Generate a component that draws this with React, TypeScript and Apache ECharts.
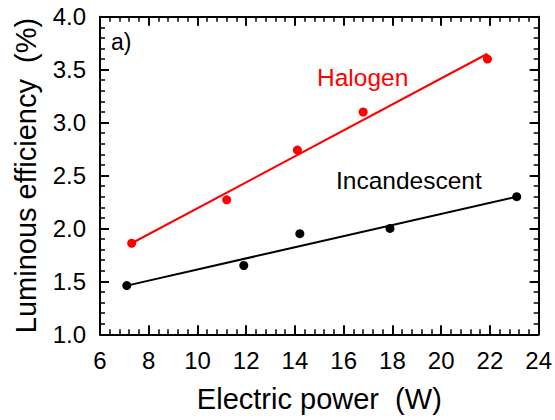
import React, { useEffect, useRef } from "react";
import * as echarts from "echarts";

const incandescentPoints: [number, number][] = [
  [7.1, 1.46],
  [11.9, 1.65],
  [14.2, 1.95],
  [17.9, 2.0],
  [23.1, 2.3],
];
const halogenPoints: [number, number][] = [
  [7.3, 1.86],
  [11.2, 2.27],
  [14.1, 2.74],
  [16.8, 3.1],
  [21.9, 3.6],
];
const incandescentFit: [number, number][] = [
  [7.1, 1.46],
  [23.1, 2.3],
];
const halogenFit: [number, number][] = [
  [7.3, 1.86],
  [21.9, 3.65],
];
const xRange = { min: 6, max: 24, interval: 2 };
const yRange = { min: 1, max: 4, interval: 0.5 };
const xTitle = "Electric power  (W)";
const yTitle = "Luminous efficiency  (%)";
const labelHalogen = "Halogen";
const labelIncandescent = "Incandescent";
const panelLabel = "a)";

const FONT = "'Liberation Sans', Arial, Helvetica, sans-serif";

export default function App() {
  const ref = useRef<HTMLDivElement>(null);
  useEffect(() => {
    if (!ref.current) return;
    const chart = echarts.init(ref.current, undefined, { renderer: "svg" });
    const axisCommon = {
      axisLine: { show: true, onZero: false, lineStyle: { color: "#000", width: 2 } },
      axisTick: { show: true, inside: true, length: 9, lineStyle: { color: "#000", width: 2 } },
      minorTick: { show: true, splitNumber: 5, length: 5, lineStyle: { color: "#000", width: 1.5 } },
      splitLine: { show: false },
    };
    const labelStyle = { color: "#000", fontSize: 24, fontFamily: FONT };
    chart.setOption({
      animation: false,
      backgroundColor: "#fff",
      textStyle: { fontFamily: FONT },
      grid: { left: 100, right: 14.5, top: 16.7, bottom: 85.7, containLabel: false },
      xAxis: [
        {
          type: "value",
          position: "bottom",
          ...xRange,
          ...axisCommon,
          axisLabel: { ...labelStyle, margin: 14 },
          name: xTitle,
          nameLocation: "middle",
          nameGap: 50,
          nameTextStyle: { color: "#000", fontSize: 29, fontFamily: FONT },
        },
        {
          type: "value",
          position: "top",
          ...xRange,
          ...axisCommon,
          axisLabel: { show: false },
        },
      ],
      yAxis: [
        {
          type: "value",
          position: "left",
          ...yRange,
          ...axisCommon,
          axisLabel: { ...labelStyle, margin: 14, formatter: (v: number) => v.toFixed(1) },
          name: yTitle,
          nameLocation: "middle",
          nameGap: 60,
          nameTextStyle: { color: "#000", fontSize: 29, fontFamily: FONT },
        },
        {
          type: "value",
          position: "right",
          ...yRange,
          ...axisCommon,
          axisLabel: { show: false },
        },
      ],
      series: [
        {
          type: "line",
          data: incandescentFit,
          symbol: "none",
          lineStyle: { color: "#000", width: 2 },
          z: 2,
        },
        {
          type: "line",
          data: halogenFit,
          symbol: "none",
          lineStyle: { color: "#ff0000", width: 2 },
          z: 2,
        },
        {
          type: "scatter",
          data: incandescentPoints,
          symbol: "circle",
          symbolSize: 9,
          itemStyle: { color: "#000", opacity: 1 },
          z: 3,
        },
        {
          type: "scatter",
          data: halogenPoints,
          symbol: "circle",
          symbolSize: 9,
          itemStyle: { color: "#ff0000", opacity: 1 },
          z: 3,
        },
      ],
      graphic: [
        {
          type: "text",
          x: 317,
          y: 77,
          style: { text: labelHalogen, fill: "#ff0000", font: `24.5px ${FONT}`, align: "left", verticalAlign: "middle" },
        },
        {
          type: "text",
          x: 336,
          y: 180,
          style: { text: labelIncandescent, fill: "#000", font: `24.5px ${FONT}`, align: "left", verticalAlign: "middle" },
        },
        {
          type: "text",
          x: 111,
          y: 42,
          style: { text: panelLabel, fill: "#000", font: `23px ${FONT}`, align: "left", verticalAlign: "middle" },
        },
      ],
    });
    return () => chart.dispose();
  }, []);
  return <div ref={ref} style={{ width: 555, height: 420, position: "absolute", left: 0, top: 0 }} />;
}
